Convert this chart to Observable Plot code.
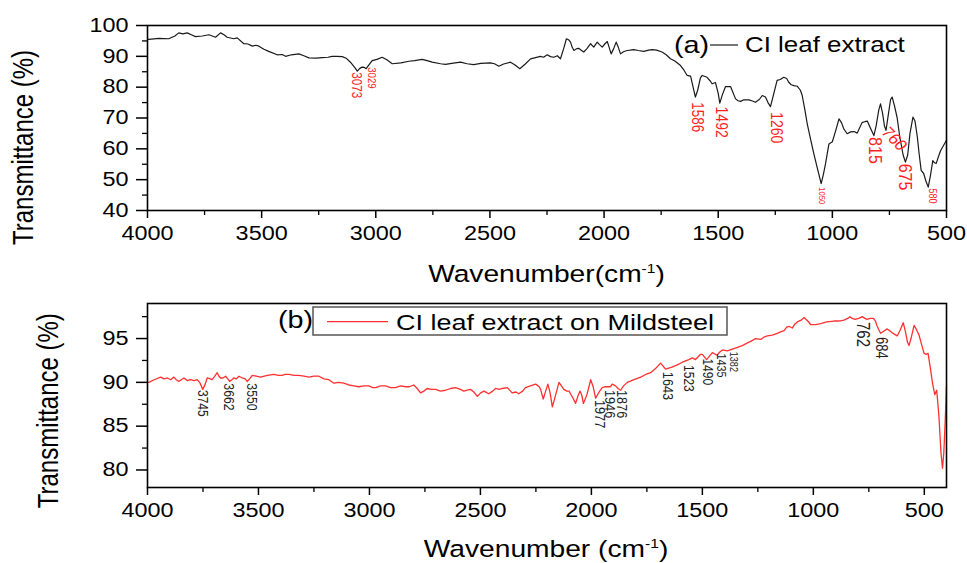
<!DOCTYPE html>
<html>
<head>
<meta charset="utf-8">
<script src="https://cdn.jsdelivr.net/npm/d3@7"></script>
<script src="https://cdn.jsdelivr.net/npm/@observablehq/plot@0.6"></script>
<style>
  html, body { margin: 0; padding: 0; background: #fff; }
  #chart svg { display: block; overflow: visible; }
</style>
</head>
<body>
<div id="chart"></div>
<script>
// ---------- DATA ----------
// Axis ticks
const xMajor = [4000, 3500, 3000, 2500, 2000, 1500, 1000, 500];
const xMinor = [3750, 3250, 2750, 2250, 1750, 1250, 750];
const yMajorA = [40, 50, 60, 70, 80, 90, 100];
const yMinorA = [45, 55, 65, 75, 85, 95];
const yMajorB = [80, 85, 90, 95];
const yMinorB = [82.5, 87.5, 92.5, 97.5];

// (a) CI leaf extract : [wavenumber, transmittance]
const spectrumA = [
  [4000,95.6],[3994,95.5],[3950,95.8],[3907,95.7],[3880,96.6],[3863,97.6],[3845,97.3],[3826,97.6],
  [3808,97.0],[3790,96.4],[3760,96.6],[3731,97.0],[3702,96.2],[3680,97.6],[3665,97.0],[3651,96.2],
  [3622,95.7],[3607,96.0],[3578,94.1],[3560,94.0],[3541,93.3],[3525,93.6],[3512,93.3],[3490,92.3],
  [3469,91.6],[3432,90.5],[3410,90.6],[3395,90.0],[3370,90.5],[3337,90.8],[3315,90.2],[3293,89.5],
  [3260,89.4],[3235,89.6],[3210,89.7],[3191,90.0],[3170,90.0],[3147,89.9],[3130,89.4],[3111,88.1],
  [3090,86.2],[3081,85.2],[3070,86.1],[3060,86.5],[3050,86.4],[3042,86.0],[3030,87.2],[3016,88.6],
  [2995,89.0],[2972,89.7],[2950,88.8],[2928,87.6],[2890,87.9],[2855,88.4],[2830,88.6],[2797,89.0],
  [2775,88.6],[2753,88.1],[2716,87.6],[2695,87.4],[2660,87.8],[2629,88.1],[2600,87.6],[2571,87.3],
  [2540,87.7],[2498,87.9],[2480,87.6],[2461,86.8],[2440,87.5],[2410,88.1],[2390,87.2],[2369,86.0],
  [2345,87.5],[2322,89.2],[2300,89.6],[2279,90.0],[2265,89.7],[2249,90.5],[2235,89.9],[2220,89.7],
  [2205,90.2],[2191,89.2],[2175,93.0],[2165,95.7],[2156,95.4],[2147,94.6],[2140,93.0],[2132,91.9],
  [2120,92.5],[2111,92.6],[2100,92.0],[2089,91.4],[2075,92.5],[2059,94.1],[2052,93.5],[2045,93.0],
  [2037,93.9],[2030,94.6],[2020,93.8],[2008,93.0],[1997,94.0],[1986,94.8],[1978,93.0],[1969,90.8],
  [1958,92.5],[1947,94.6],[1938,93.0],[1928,90.8],[1915,91.5],[1899,91.9],[1885,92.0],[1870,92.2],
  [1850,91.9],[1826,91.6],[1805,92.0],[1789,92.2],[1770,92.0],[1746,91.4],[1728,90.5],[1709,89.2],
  [1690,88.5],[1665,87.0],[1650,85.5],[1636,83.8],[1621,83.6],[1610,80.0],[1600,76.8],[1590,79.0],
  [1578,83.0],[1570,83.8],[1549,83.2],[1535,82.0],[1527,81.1],[1512,81.5],[1500,78.0],[1493,74.8],
  [1482,77.5],[1468,80.2],[1446,80.2],[1424,76.2],[1413,75.6],[1402,75.4],[1388,75.9],[1366,75.9],
  [1350,75.5],[1337,75.1],[1320,76.0],[1307,77.3],[1293,76.8],[1282,75.0],[1271,73.7],[1258,77.5],
  [1242,82.2],[1228,82.5],[1213,83.2],[1200,82.8],[1191,81.6],[1180,80.8],[1169,80.5],[1154,80.3],
  [1140,79.0],[1132,77.3],[1120,72.5],[1110,68.1],[1095,63.0],[1081,58.4],[1065,53.5],[1049,48.7],
  [1040,51.5],[1030,55.1],[1015,61.6],[1000,62.3],[985,66.0],[971,69.7],[960,68.5],[950,66.5],
  [935,64.9],[920,65.5],[905,65.6],[891,65.1],[870,68.5],[858,68.8],[847,69.0],[835,67.0],
  [818,64.3],[808,67.5],[797,72.5],[789,74.6],[780,71.5],[772,67.5],[765,66.0],[755,71.0],
  [745,76.0],[738,76.8],[728,74.0],[716,70.0],[705,64.0],[690,58.0],[680,55.7],[670,58.0],
  [660,65.0],[647,70.3],[638,69.0],[628,64.0],[620,58.5],[611,53.0],[600,52.0],[590,49.5],
  [580,47.6],[570,51.5],[560,56.2],[553,55.5],[545,55.3],[535,57.5],[526,59.4],[510,61.5],[500,62.8]
];

// (b) CI leaf extract on Mildsteel : [wavenumber, transmittance]
const spectrumB = [
  [4000,90.0],[3994,90.0],[3970,90.3],[3941,90.6],[3925,90.4],[3911,90.5],[3895,90.3],[3881,90.6],
  [3870,90.3],[3859,90.1],[3848,90.3],[3836,90.5],[3820,90.2],[3806,90.3],[3790,90.2],[3776,90.3],
  [3765,90.0],[3751,89.2],[3740,89.8],[3731,90.5],[3716,90.4],[3709,90.3],[3700,90.6],[3686,91.1],
  [3678,90.7],[3671,90.5],[3660,90.5],[3648,90.7],[3638,90.4],[3630,90.1],[3620,90.3],[3611,90.5],
  [3600,90.4],[3588,90.7],[3573,90.5],[3560,90.4],[3551,90.1],[3540,90.4],[3528,90.8],[3510,90.7],
  [3491,90.6],[3460,90.8],[3431,90.9],[3410,90.8],[3394,90.8],[3380,90.9],[3363,90.9],[3340,90.8],
  [3318,90.8],[3295,90.7],[3273,90.6],[3250,90.7],[3228,90.7],[3205,90.4],[3183,90.3],[3160,89.9],
  [3140,90.0],[3116,89.9],[3093,89.7],[3070,89.6],[3048,89.5],[3025,89.6],[3003,89.6],[2985,89.4],
  [2972,89.4],[2950,89.6],[2927,89.6],[2905,89.4],[2882,89.4],[2860,89.6],[2837,89.5],[2820,89.5],
  [2800,89.7],[2785,89.3],[2770,88.8],[2755,89.0],[2740,89.3],[2720,89.2],[2702,89.2],[2680,89.0],
  [2657,89.1],[2635,89.3],[2612,89.4],[2590,89.2],[2575,89.0],[2560,89.1],[2545,89.2],[2530,88.9],
  [2514,88.4],[2499,88.8],[2484,89.0],[2470,88.8],[2462,88.7],[2445,89.0],[2432,89.3],[2415,89.2],
  [2402,89.3],[2379,89.4],[2357,88.8],[2340,88.9],[2327,88.7],[2310,89.0],[2297,89.4],[2275,89.6],
  [2251,89.8],[2235,89.5],[2229,89.2],[2217,88.1],[2206,89.0],[2196,89.8],[2186,88.8],[2176,87.2],
  [2165,88.2],[2146,90.0],[2135,89.6],[2124,89.2],[2110,89.0],[2101,89.0],[2085,88.3],[2071,87.6],
  [2060,88.5],[2051,89.0],[2043,88.5],[2036,87.6],[2020,88.6],[2003,90.3],[1992,89.5],[1981,88.2],
  [1965,88.9],[1951,89.4],[1940,89.5],[1929,89.5],[1915,89.5],[1906,89.8],[1891,89.6],[1880,89.3],
  [1868,89.1],[1855,89.6],[1838,90.0],[1808,90.3],[1778,90.6],[1755,90.9],[1733,91.1],[1710,91.6],
  [1688,92.2],[1675,91.8],[1666,91.5],[1640,91.7],[1613,92.0],[1590,92.3],[1561,92.6],[1545,92.8],
  [1531,92.6],[1508,93.2],[1500,93.2],[1481,92.6],[1468,93.0],[1455,93.4],[1434,93.1],[1420,93.5],
  [1410,93.7],[1387,93.6],[1365,93.8],[1342,94.0],[1320,94.2],[1297,94.5],[1280,94.7],[1260,95.0],
  [1237,94.9],[1220,95.2],[1207,95.3],[1185,95.4],[1162,95.6],[1145,95.8],[1132,95.9],[1120,96.3],
  [1110,96.4],[1095,96.2],[1085,96.6],[1072,96.9],[1055,97.1],[1042,97.4],[1025,97.0],[1012,96.6],
  [990,96.6],[967,96.7],[940,96.9],[907,97.0],[885,97.0],[862,97.1],[845,97.3],[835,97.5],
  [825,97.3],[812,97.2],[795,97.3],[779,97.5],[768,97.3],[758,97.2],[745,97.3],[729,97.3],
  [720,97.0],[714,96.5],[705,96.0],[697,95.6],[685,95.8],[667,96.1],[656,95.9],[646,95.7],
  [635,95.5],[622,95.3],[608,96.0],[595,96.8],[585,95.8],[576,94.6],[569,94.2],[560,95.0],
  [546,96.5],[535,96.0],[524,95.4],[512,94.3],[501,93.3],[492,93.2],[483,93.3],[472,91.5],
  [463,89.9],[453,88.6],[444,89.1],[434,86.1],[425,82.0],[418,80.2],[412,82.0],[406,85.5],[400,89.5]
];

// Peak annotations (label text, wavenumber and transmittance where the label starts)
const peakLabelsA = ["3073","3029","1586","1492","1260","1050","815","760","675","580"];
const peakXA      = [3084, 3019, 1593, 1488, 1245, 1045, 811, 771, 680, 561];
const peakYA      = [84.85, 86.5, 75.1, 73.7, 71.9, 47.6, 63.8, 66.3, 55.2, 47.1];

const peakLabelsB = ["3745","3662","3550","1977","1946","1876","1643","1523","1490","1435","1382","762","684"];
const peakXB      = [3750, 3635, 3531, 1961, 1916, 1862, 1655, 1563, 1475, 1414, 1360, 775, 694];
const peakYB      = [89.13, 89.89, 89.89, 87.99, 89.13, 89.13, 91.2, 91.97, 92.73, 93.3, 93.48, 96.89, 95.18];

// ---------- STYLE ----------
const FONT = "'Liberation Sans', Arial, sans-serif";
const peakSizeA = [11.7, 9.7, 13.5, 14, 14, 7.8, 16, 15, 16, 9];
const peakRotA  = [90, 90, 90, 90, 90, 90, 90, 50, 90, 90];
const peakSizeB = [12, 12.3, 12.3, 12.7, 12.7, 12.7, 12.7, 12, 12, 10.8, 9, 15, 13];

function axes(yMajor, yMinor) {
  return [
    Plot.axisX({ticks: xMajor, tickSize: 8, tickPadding: 8, tickFormat: "d", label: null, strokeWidth: 1.5, fontSize: 19.5}),
    Plot.axisX({ticks: xMinor, tickSize: 5, tickFormat: () => "", label: null, strokeWidth: 1.3}),
    Plot.axisY({ticks: yMajor, tickSize: 11, tickPadding: 8, tickFormat: "d", label: null, strokeWidth: 1.5, fontSize: 19.5}),
    Plot.axisY({ticks: yMinor, tickSize: 5, tickFormat: () => "", label: null, strokeWidth: 1.3})
  ];
}

const plotA = Plot.plot({
  width: 967, height: 290,
  marginLeft: 147, marginRight: 21, marginTop: 25, marginBottom: 80,
  style: {fontFamily: FONT, fontSize: "19.5px", color: "black", background: "white"},
  x: {domain: [4000, 500]},
  y: {domain: [40, 100]},
  marks: [
    ...axes(yMajorA, yMinorA),
    Plot.line(spectrumA, {x: d => d[0], y: d => d[1], stroke: "#1a1a1a", strokeWidth: 1.2}),
    Plot.text(peakLabelsA, {
      x: (d, i) => peakXA[i], y: (d, i) => peakYA[i], text: d => d,
      rotate: (d, i) => peakRotA[i], fontSize: (d, i) => peakSizeA[i],
      textAnchor: "start", fill: "#ff1f1f", fontFamily: FONT
    }),
    Plot.frame({stroke: "black", strokeWidth: 1.6})
  ]
});

const plotB = Plot.plot({
  width: 967, height: 273,
  marginLeft: 147, marginRight: 21, marginTop: 13, marginBottom: 76,
  style: {fontFamily: FONT, fontSize: "19.5px", color: "black", background: "white"},
  x: {domain: [4000, 400]},
  y: {domain: [78, 99]},
  marks: [
    ...axes(yMajorB, yMinorB),
    Plot.line(spectrumB, {x: d => d[0], y: d => d[1], stroke: "#ff3030", strokeWidth: 1.3}),
    Plot.text(peakLabelsB, {
      x: (d, i) => peakXB[i], y: (d, i) => peakYB[i], text: d => d,
      rotate: 90, fontSize: (d, i) => peakSizeB[i],
      textAnchor: "start", fill: "#222", fontFamily: FONT
    }),
    Plot.frame({stroke: "black", strokeWidth: 1.6})
  ]
});

const host = document.getElementById("chart");
host.appendChild(plotA);
host.appendChild(plotB);

// widen horizontal tick labels and rotated annotations (stretched original)
function finish(svg) {
  svg.querySelectorAll('g[aria-label="x-axis tick label"] text, g[aria-label="y-axis tick label"] text').forEach(t => {
    const w = t.getComputedTextLength();
    if (w > 0) {
      t.setAttribute("textLength", (w * 1.2).toFixed(2));
      t.setAttribute("lengthAdjust", "spacingAndGlyphs");
    }
  });
  svg.querySelectorAll('g[aria-label="text"] text').forEach(t => {
    const tr = t.getAttribute("transform");
    if (tr && tr.includes("rotate(")) t.setAttribute("transform", tr.replace("rotate(", "scale(1.2,1) rotate("));
  });
}
finish(plotA);
finish(plotB);

function title(svg, x, y, rot, size, parts) {
  const t = svg.append("text")
    .attr("transform", `translate(${x},${y}) scale(1.2,1)` + (rot ? ` rotate(${rot})` : ""))
    .attr("text-anchor", "middle").attr("font-family", FONT).attr("font-size", size).attr("fill", "black");
  parts.forEach(p => {
    const s = t.append("tspan").text(p.text);
    if (p.size) s.attr("font-size", p.size);
    if (p.dy) s.attr("dy", p.dy);
  });
  return t;
}
function label(svg, x, y, size, txt) {
  return svg.append("text")
    .attr("transform", `translate(${x},${y}) scale(1.2,1)`)
    .attr("text-anchor", "start").attr("font-family", FONT).attr("font-size", size).attr("fill", "black")
    .text(txt);
}

const sA = d3.select(plotA);
title(sA, 33, 147.5, -90, 24, [{text: "Transmittance (%)"}]);
title(sA, 546.5, 281.5, 0, 23.5, [{text: "Wavenumber(cm"}, {text: "-1", size: 13, dy: -9}, {text: ")", size: 23.5, dy: 9}]);
// legend (a)
label(sA, 674, 53.3, 24, "(a)");
sA.append("line").attr("x1", 710).attr("x2", 738).attr("y1", 45).attr("y2", 45)
  .attr("stroke", "#1a1a1a").attr("stroke-width", 1.2);
label(sA, 745, 52, 21.6, "CI leaf extract");

const sB = d3.select(plotB);
title(sB, 58, 120.7, -90, 24, [{text: "Transmittance (%)"}]);
title(sB, 546, 267, 0, 23.5, [{text: "Wavenumber (cm"}, {text: "-1", size: 13, dy: -9}, {text: ")", size: 23.5, dy: 9}]);
// legend (b)
label(sB, 278, 38.3, 24, "(b)");
sB.append("rect").attr("x", 313).attr("y", 17).attr("width", 414).attr("height", 28)
  .attr("fill", "white").attr("stroke", "#555").attr("stroke-width", 1.5);
sB.append("line").attr("x1", 327).attr("x2", 388).attr("y1", 31.7).attr("y2", 31.7)
  .attr("stroke", "#ff3030").attr("stroke-width", 1.3);
label(sB, 396, 40, 22.5, "CI leaf extract on Mildsteel");
</script>
</body>
</html>
